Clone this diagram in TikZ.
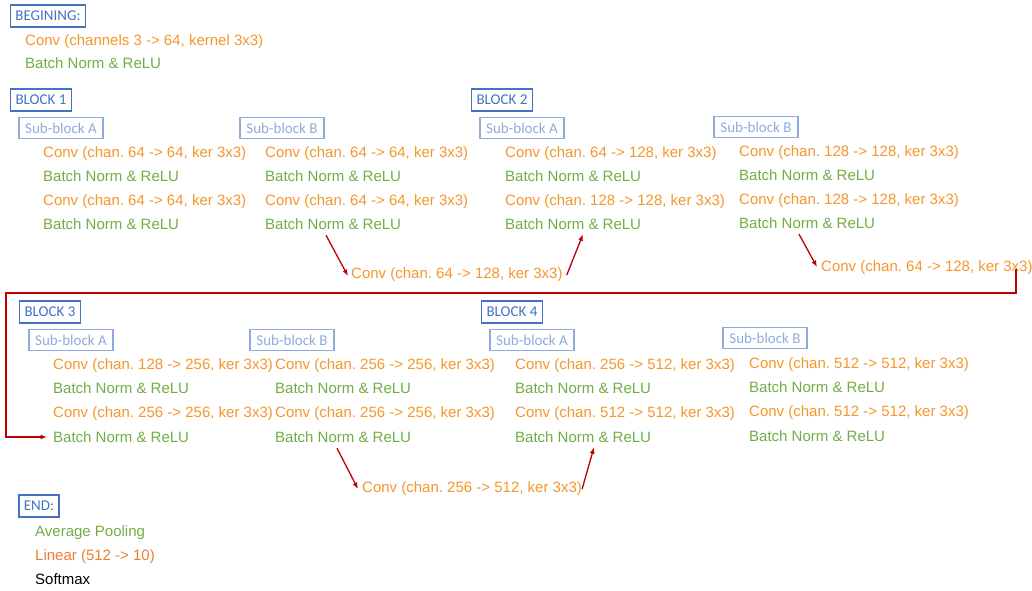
\documentclass[tikz,border=0pt]{standalone}
\usepackage{fontspec}
\setmainfont{Liberation Sans}
\newfontfamily\boxfont{Carlito}
\usetikzlibrary{arrows.meta,calc}
\frenchspacing
\definecolor{convc}{HTML}{F4962A}
\definecolor{bnc}{HTML}{70AD47}
\definecolor{linc}{HTML}{ED7D31}
\definecolor{blkc}{HTML}{4472C4}
\definecolor{subc}{HTML}{8FAADC}
\definecolor{arrc}{HTML}{C00000}
\tikzset{
  txt/.style={anchor=west,inner sep=0pt,text height=12pt,text depth=2pt,font=\fontsize{15}{18}\selectfont},
  conv/.style={txt,text=convc},
  bn/.style={txt,text=bnc},
  blk/.style={draw=blkc,line width=1.8pt,text=blkc,inner xsep=5pt,minimum height=22pt,font=\boxfont\fontsize{15}{18}\selectfont},
  sub/.style={draw=subc,line width=1.8pt,text=subc,inner xsep=6.5pt,minimum height=21pt,font=\boxfont\fontsize{15}{18}\selectfont},
  redarrow/.style={draw=arrc,line width=1.3pt,-{Latex[length=6.5pt,width=5pt]}},
}
\begin{document}
\begin{tikzpicture}[x=1pt,y=-1pt]
\useasboundingbox (0,0) rectangle (1032,590);
% Beginning
\node[blk] (beg) at (48,16) {BEGINING:};
\node[conv] (begconv) at (25,40) {Conv (channels 3 -> 64, kernel 3x3)};
\node[bn] (begbn) at (25,63) {Batch Norm \& ReLU};
% Block 1
\node[blk] (blk1) at (41,100) {BLOCK 1};
\node[sub] (b1sa) at (61,128) {Sub-block A};
\node[conv] (b1a1) at (43,152) {Conv (chan. 64 -> 64, ker 3x3)};
\node[bn]   (b1a2) at (43,176) {Batch Norm \& ReLU};
\node[conv] (b1a3) at (43,200) {Conv (chan. 64 -> 64, ker 3x3)};
\node[bn]   (b1a4) at (43,224) {Batch Norm \& ReLU};
\node[sub] (b1sb) at (282,128) {Sub-block B};
\node[conv] (b1b1) at (265,152) {Conv (chan. 64 -> 64, ker 3x3)};
\node[bn]   (b1b2) at (265,176) {Batch Norm \& ReLU};
\node[conv] (b1b3) at (265,200) {Conv (chan. 64 -> 64, ker 3x3)};
\node[bn]   (b1b4) at (265,224) {Batch Norm \& ReLU};
\node[conv] (s1) at (351,273) {Conv (chan. 64 -> 128, ker 3x3)};
% Block 2
\node[blk] (blk2) at (502,100) {BLOCK 2};
\node[sub] (b2sa) at (522,128) {Sub-block A};
\node[conv] (b2a1) at (505,152) {Conv (chan. 64 -> 128, ker 3x3)};
\node[bn]   (b2a2) at (505,176) {Batch Norm \& ReLU};
\node[conv] (b2a3) at (505,200) {Conv (chan. 128 -> 128, ker 3x3)};
\node[bn]   (b2a4) at (505,224) {Batch Norm \& ReLU};
\node[sub] (b2sb) at (756,127) {Sub-block B};
\node[conv] (b2b1) at (739,151) {Conv (chan. 128 -> 128, ker 3x3)};
\node[bn]   (b2b2) at (739,175) {Batch Norm \& ReLU};
\node[conv] (b2b3) at (739,199) {Conv (chan. 128 -> 128, ker 3x3)};
\node[bn]   (b2b4) at (739,223) {Batch Norm \& ReLU};
\node[conv] (s2) at (821,266) {Conv (chan. 64 -> 128, ker 3x3)};
% Block 3
\node[blk] (blk3) at (50,312) {BLOCK 3};
\node[sub] (b3sa) at (71,340) {Sub-block A};
\node[conv] (b3a1) at (53,364) {Conv (chan. 128 -> 256, ker 3x3)};
\node[bn]   (b3a2) at (53,388) {Batch Norm \& ReLU};
\node[conv] (b3a3) at (53,412) {Conv (chan. 256 -> 256, ker 3x3)};
\node[bn]   (b3a4) at (53,437) {Batch Norm \& ReLU};
\node[sub] (b3sb) at (292,340) {Sub-block B};
\node[conv] (b3b1) at (275,364) {Conv (chan. 256 -> 256, ker 3x3)};
\node[bn]   (b3b2) at (275,388) {Batch Norm \& ReLU};
\node[conv] (b3b3) at (275,412) {Conv (chan. 256 -> 256, ker 3x3)};
\node[bn]   (b3b4) at (275,437) {Batch Norm \& ReLU};
\node[conv] (s3) at (362,487) {Conv (chan. 256 -> 512, ker 3x3)};
% Block 4
\node[blk] (blk4) at (512,312) {BLOCK 4};
\node[sub] (b4sa) at (532,340) {Sub-block A};
\node[conv] (b4a1) at (515,364) {Conv (chan. 256 -> 512, ker 3x3)};
\node[bn]   (b4a2) at (515,388) {Batch Norm \& ReLU};
\node[conv] (b4a3) at (515,412) {Conv (chan. 512 -> 512, ker 3x3)};
\node[bn]   (b4a4) at (515,437) {Batch Norm \& ReLU};
\node[sub] (b4sb) at (765,338) {Sub-block B};
\node[conv] (b4b1) at (749,363) {Conv (chan. 512 -> 512, ker 3x3)};
\node[bn]   (b4b2) at (749,387) {Batch Norm \& ReLU};
\node[conv] (b4b3) at (749,411) {Conv (chan. 512 -> 512, ker 3x3)};
\node[bn]   (b4b4) at (749,436) {Batch Norm \& ReLU};
% End
\node[blk] (endb) at (39,506) {END:};
\node[bn] (avg) at (35,531) {Average Pooling};
\node[txt,text=linc] (lin) at (35,555) {Linear (512 -> 10)};
\node[txt,text=black] (soft) at (35,579) {Softmax};
% connectors
\coordinate (c1) at (6,293);
\draw[redarrow] ($(b1b4.south west)+(61,4)$) -- ($(s1.west)+(-3,3)$);
\draw[redarrow] ($(s1.east)+(4,2)$) -- ($(b2a4.south west)+(78,3)$);
\draw[redarrow] ($(b2b4.south west)+(60,4)$) -- ($(s2.west)+(-4,1)$);
\draw[redarrow] ($(s2.south west)+(195,-4)$) |- (c1) |- ($(b3a4.west)+(-6,0)$);
\draw[redarrow] ($(b3b4.south west)+(62,4)$) -- ($(s3.west)+(-4,2)$);
\draw[redarrow] ($(s3.east)+(0,2)$) -- ($(b4a4.south west)+(79,3)$);
\end{tikzpicture}
\end{document}
